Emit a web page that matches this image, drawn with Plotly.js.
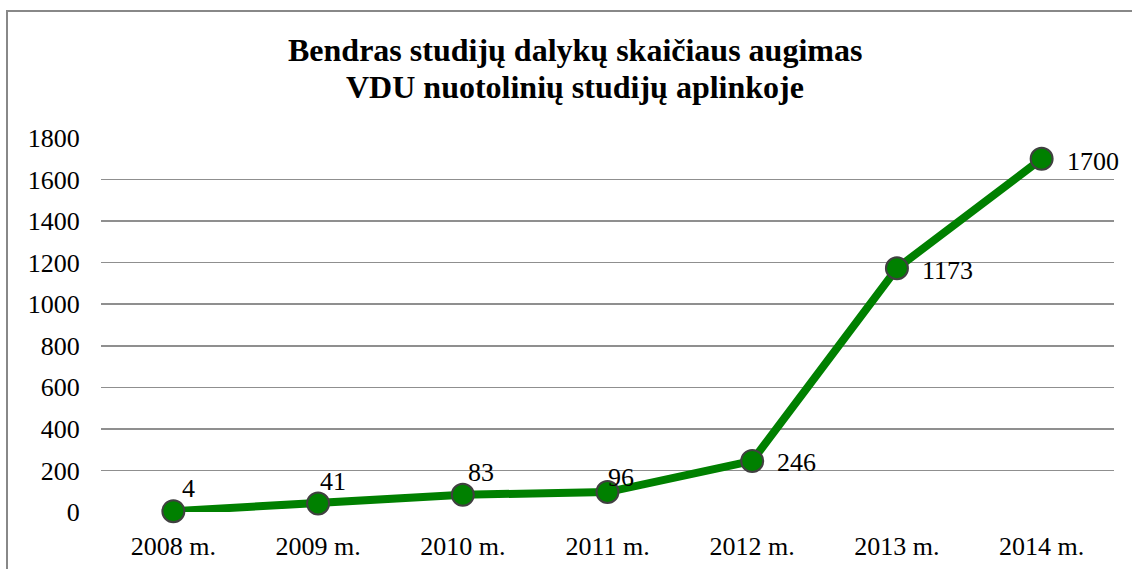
<!DOCTYPE html>
<html>
<head>
<meta charset="utf-8">
<script src="https://cdn.plot.ly/plotly-3.0.1.min.js"></script>
<style>
  html, body { margin: 0; padding: 0; background: white; }
  #chart { width: 1132px; height: 569px; }
</style>
</head>
<body>
<div id="chart"></div>
<script>
  // Metai ir studijų dalykų skaičius
  const years = ["2008 m.", "2009 m.", "2010 m.", "2011 m.", "2012 m.", "2013 m.", "2014 m."];
  const courses = [4, 41, 83, 96, 246, 1173, 1700];
  const yTicks = [0, 200, 400, 600, 800, 1000, 1200, 1400, 1600, 1800];
  const titleLines = ["Bendras studijų dalykų skaičiaus augimas", "VDU nuotolinių studijų aplinkoje"];

  // poslinkiai reikšmių etiketėms (px)
  const labelDx = [7, 0, 3, -2, 23, 23, 23];
  const labelDy = [23, 22, 22, 15, -2, -2, -3];

  const serif = "Liberation Serif, Times New Roman, serif";

  var trace = {
    x: years,
    y: courses,
    mode: "lines+markers",
    line: { color: "#008000", width: 8 },
    marker: {
      color: "#008000",
      size: 22,
      line: { color: "#404040", width: 2 },
    },
    cliponaxis: false,
    hoverinfo: "x+y",
  };

  // reikšmių etiketės
  const valueLabels = courses.map((v, i) => ({
    x: years[i],
    y: v,
    xref: "x",
    yref: "y",
    text: String(v),
    showarrow: false,
    xanchor: "left",
    yanchor: "middle",
    xshift: labelDx[i],
    yshift: labelDy[i],
    font: { family: serif, size: 26, color: "#000" },
  }));

  // pavadinimas dviem eilutėmis
  const titleAnnots = titleLines.map((t, i) => ({
    x: 0.468,
    y: 1 + (i === 0 ? 88 : 51) / 374,
    xref: "paper",
    yref: "paper",
    text: "<b>" + t + "</b>",
    showarrow: false,
    xanchor: "center",
    yanchor: "middle",
    font: { family: serif, size: 32, color: "#000" },
  }));

  var layout = {
    width: 1132,
    height: 569,
    margin: { l: 101, r: 18, t: 138, b: 57 },
    paper_bgcolor: "white",
    plot_bgcolor: "white",
    showlegend: false,
    font: { family: serif, size: 26, color: "#000" },
    xaxis: {
      type: "category",
      range: [-0.5, years.length - 0.5],
      showgrid: false,
      zeroline: false,
      showline: false,
      ticks: "outside",
      ticklen: 11,
      tickcolor: "rgba(0,0,0,0)",
      tickfont: { family: serif, size: 26 },
      fixedrange: true,
    },
    yaxis: {
      range: [0, 1800],
      tickvals: yTicks,
      showgrid: true,
      gridcolor: "#8f8f8f",
      gridwidth: 1.5,
      zeroline: false,
      ticks: "outside",
      ticklen: 15,
      tickcolor: "rgba(0,0,0,0)",
      tickfont: { family: serif, size: 26 },
      fixedrange: true,
    },
    annotations: titleAnnots.concat(valueLabels),
    shapes: [
      {
        type: "rect",
        xref: "paper",
        yref: "paper",
        x0: -94 / 1013,
        x1: 1.1,
        y0: -0.3,
        y1: 1 + 127 / 374,
        line: { color: "#888888", width: 2 },
        fillcolor: "rgba(0,0,0,0)",
        layer: "below",
      },
    ],
  };

  var config = { displayModeBar: false, staticPlot: true };

  Plotly.newPlot(document.getElementById("chart"), [trace], layout, config);
</script>
</body>
</html>
